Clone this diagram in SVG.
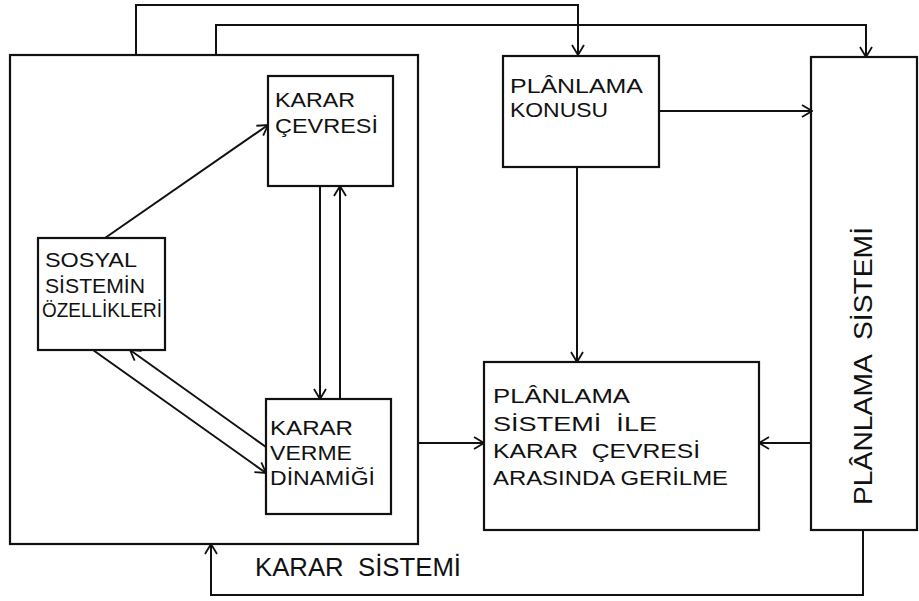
<svg xmlns="http://www.w3.org/2000/svg" width="919" height="601" viewBox="0 0 919 601" xml:space="preserve">
<defs>
<marker id="ah" viewBox="0 0 12 14" refX="11" refY="7" markerWidth="12" markerHeight="14" markerUnits="userSpaceOnUse" orient="auto">
<path d="M1,1 L11,7 L1,13" fill="none" stroke="#111" stroke-width="1.8"/>
</marker>
</defs>
<style>
.box{fill:none;stroke:#111;stroke-width:2.2}
.ln{fill:none;stroke:#111;stroke-width:2;marker-end:url(#ah)}
text{font-family:"Liberation Sans","DejaVu Sans",sans-serif;fill:#111;font-size:21px;white-space:pre}
.big{font-size:26px}
</style>
<rect width="919" height="601" fill="#fff"/>
<g id="connectors">
<polyline class="ln" points="136,55 136,5 578,5 578,55"/>
<polyline class="ln" points="216,55 216,25 866,25 866,57"/>
<line class="ln" x1="105" y1="238" x2="268" y2="125"/>
<line class="ln" x1="320" y1="186" x2="320" y2="399"/>
<line class="ln" x1="340" y1="399" x2="340" y2="186"/>
<line class="ln" x1="93" y1="350" x2="266" y2="473"/>
<line class="ln" x1="266" y1="447" x2="130" y2="350"/>
<line class="ln" x1="659" y1="111" x2="812" y2="111"/>
<line class="ln" x1="577" y1="167" x2="577" y2="362"/>
<line class="ln" x1="418" y1="443" x2="484" y2="443"/>
<line class="ln" x1="812" y1="443" x2="759" y2="443"/>
<polyline class="ln" points="863,530 863,595 211,595 211,544"/>
</g>
<g id="karar-sistemi">
<rect class="box" x="10" y="55" width="408" height="489"/>
<text class="big" x="255" y="576" textLength="206" lengthAdjust="spacingAndGlyphs">KARAR  SİSTEMİ</text>
</g>
<g id="karar-cevresi">
<rect class="box" x="268" y="76" width="125" height="110"/>
<text x="275" y="107" textLength="80" lengthAdjust="spacingAndGlyphs">KARAR</text>
<text x="275" y="133" textLength="103" lengthAdjust="spacingAndGlyphs">ÇEVRESİ</text>
</g>
<g id="sosyal-sistem">
<rect class="box" x="38" y="238" width="127" height="112"/>
<text x="45" y="267" textLength="92" lengthAdjust="spacingAndGlyphs">SOSYAL</text>
<text x="45" y="293" textLength="100" lengthAdjust="spacingAndGlyphs">SİSTEMİN</text>
<text x="42" y="317" textLength="120" lengthAdjust="spacingAndGlyphs">ÖZELLİKLERİ</text>
</g>
<g id="karar-verme">
<rect class="box" x="266" y="399" width="125" height="115"/>
<text x="270" y="435" textLength="83" lengthAdjust="spacingAndGlyphs">KARAR</text>
<text x="270" y="460" textLength="82" lengthAdjust="spacingAndGlyphs">VERME</text>
<text x="270" y="485" textLength="105" lengthAdjust="spacingAndGlyphs">DİNAMİĞİ</text>
</g>
<g id="planlama-konusu">
<rect class="box" x="503" y="56" width="156" height="111"/>
<text x="510" y="93" textLength="133" lengthAdjust="spacingAndGlyphs">PLÂNLAMA</text>
<text x="510" y="117" textLength="98" lengthAdjust="spacingAndGlyphs">KONUSU</text>
</g>
<g id="gerilme">
<rect class="box" x="484" y="362" width="275" height="168"/>
<text x="493" y="403" textLength="137" lengthAdjust="spacingAndGlyphs">PLÂNLAMA</text>
<text x="493" y="431" textLength="164" lengthAdjust="spacingAndGlyphs">SİSTEMİ  İLE</text>
<text x="493" y="458" textLength="207" lengthAdjust="spacingAndGlyphs">KARAR  ÇEVRESİ</text>
<text x="493" y="485" textLength="235" lengthAdjust="spacingAndGlyphs">ARASINDA GERİLME</text>
</g>
<g id="planlama-sistemi">
<rect class="box" x="811" y="57" width="106" height="473"/>
<text class="big" transform="translate(872,505) rotate(-90)" x="0" y="0" textLength="278" lengthAdjust="spacingAndGlyphs">PLÂNLAMA  SİSTEMİ</text>
</g>
</svg>
